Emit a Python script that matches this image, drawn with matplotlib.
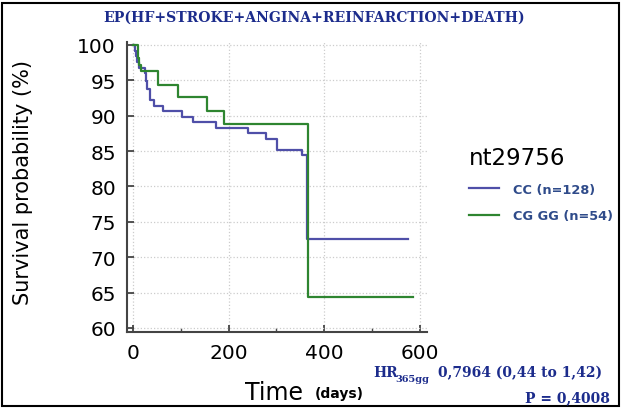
import matplotlib
matplotlib.use("Agg")
import matplotlib.pyplot as plt
from matplotlib.patches import Rectangle
from matplotlib.ticker import MultipleLocator

# Kaplan-Meier step data (days, survival %)
cc_days = [0, 4, 7, 9, 12, 25, 27, 28.6, 35.5, 44, 63, 103, 126, 173, 241, 278, 302, 353, 363, 576]
cc_surv = [100, 99.2, 98.4, 97.6, 96.8, 96.0, 94.9, 93.8, 92.2, 91.4, 90.6, 89.8, 89.1, 88.3,
           87.5, 86.7, 85.2, 84.4, 72.6, 72.6]
gg_days = [0, 10, 13, 16, 53, 95, 154, 191, 365, 585]
gg_surv = [100, 98.1, 97.2, 96.3, 94.4, 92.6, 90.7, 88.9, 64.4, 64.4]

labels = ["CC (n=128)", "CG GG (n=54)"]
colors = ["#4f4fa8", "#2e8530"]
navy = "#1c2c8c"

W, H = 622, 410
fig = plt.figure(figsize=(W / 100, H / 100), dpi=100)
ax = fig.add_axes([127 / W, 1 - 333 / H, 300 / W, 290 / H])

ax.plot(cc_days, cc_surv, drawstyle="steps-post", color=colors[0], lw=1.6, label=labels[0])
ax.plot(gg_days, gg_surv, drawstyle="steps-post", color=colors[1], lw=1.6, label=labels[1])

ax.set_xlim(-12.5, 614.7)
ax.set_ylim(59.43, 100.42)
ax.set_xticks([0, 200, 400, 600])
ax.xaxis.set_minor_locator(MultipleLocator(100))
ax.set_yticks(range(60, 101, 5))
ax.grid(True, color="#cccccc", ls=":", lw=0.9)
for s in ["top", "right"]:
    ax.spines[s].set_visible(False)
for s in ["left", "bottom"]:
    ax.spines[s].set_color("#444444")
    ax.spines[s].set_linewidth(1.5)
ax.tick_params(which="major", direction="in", length=5, width=1.3, color="#444444",
               labelsize=14.5, pad=8)
ax.tick_params(which="minor", direction="in", length=3, width=1.0, color="#444444")
ax.set_ylabel("Survival probability (%)", fontsize=15)
ax.yaxis.set_label_coords((33 - 127) / 300, 0.52)

leg = ax.legend(title="nt29756", loc="upper left", bbox_to_anchor=(469 / W, 1 - 147 / H),
                bbox_transform=fig.transFigure, frameon=False, alignment="left",
                prop={"weight": "bold", "size": 9.3}, title_fontsize=16.5,
                borderpad=0, borderaxespad=0,
                handlelength=2.3, handletextpad=1.1, labelspacing=1.05)
for t in leg.get_texts():
    t.set_color("#2f4b8a")

fig.text(314 / W, 1 - 18 / H, "EP(HF+STROKE+ANGINA+REINFARCTION+DEATH)", ha="center",
         va="center", family="DejaVu Serif", weight="bold", size=10.1, color=navy)

fig.text(245 / W, 1 - 400 / H, "Time", ha="left", va="baseline", size=17)
fig.text(315 / W, 1 - 398 / H, "(days)", ha="left", va="baseline", size=10, weight="bold")

fig.text(373 / W, 1 - 377 / H, "HR", ha="left", va="baseline", family="DejaVu Serif",
         weight="bold", size=10, color=navy)
fig.text(395 / W, 1 - 382 / H, "365gg", ha="left", va="baseline", family="DejaVu Serif",
         weight="bold", size=7, color=navy)
fig.text(438 / W, 1 - 377 / H, "0,7964 (0,44 to 1,42)", ha="left", va="baseline",
         family="DejaVu Serif", weight="bold", size=10, color=navy)
fig.text(610 / W, 1 - 402 / H, "P = 0,4008", ha="right", va="baseline",
         family="DejaVu Serif", weight="bold", size=10, color=navy)

fig.add_artist(Rectangle((2 / W, 3 / H), 617 / W, 403 / H, transform=fig.transFigure,
                         fill=False, edgecolor="black", lw=1.5))

fig.savefig("out.png", dpi=100)
